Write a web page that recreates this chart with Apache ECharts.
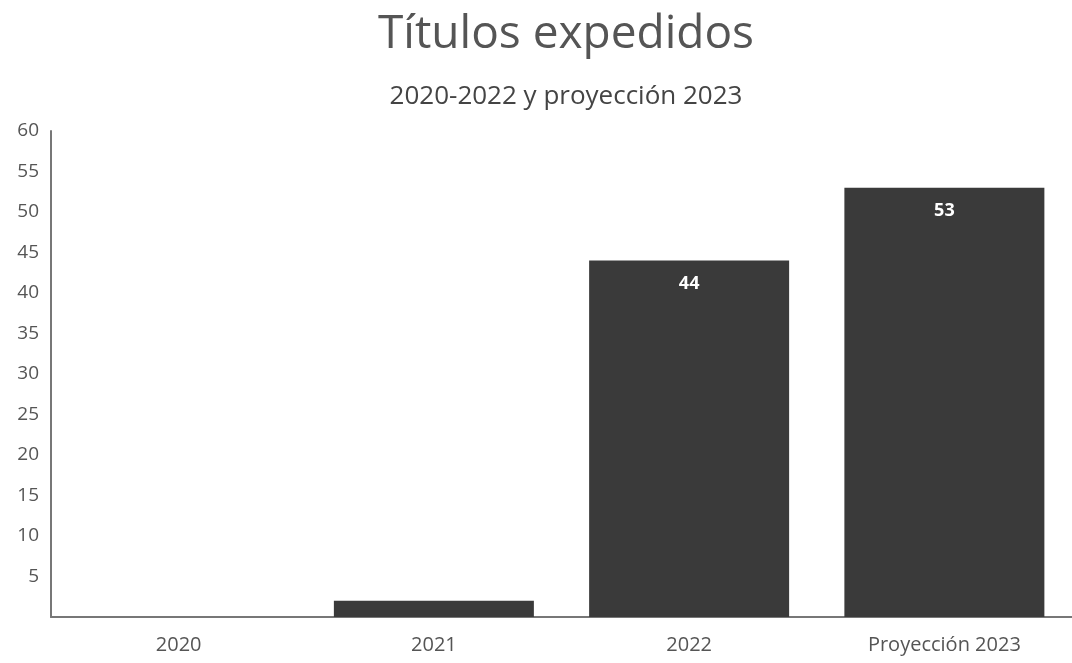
<!DOCTYPE html>
<html><head><meta charset="utf-8">
<script src="https://cdn.jsdelivr.net/npm/echarts@6/dist/echarts.min.js"></script>
<style>html,body{margin:0;padding:0;background:#fff}#c{width:1072px;height:663px}</style>
</head><body><div id="c"></div>
<script>
const categories = ["2020", "2021", "2022", "Proyección 2023"];
const values = [0, 2, 44, 53];
const yTicks = {min: 0, max: 60, interval: 5};

const chart = echarts.init(document.getElementById('c'));
chart.setOption({
  animation: false,
  title: [
    {text: 'Títulos expedidos', left: 561, textAlign: 'center', top: 7, textStyle: {fontFamily: 'Open Sans', fontSize: 46, fontWeight: 'normal', color: '#555'}},
    {text: '2020-2022 y proyección 2023', left: 561, textAlign: 'center', top: 79, textStyle: {fontFamily: 'Open Sans', fontSize: 26, fontWeight: 'normal', color: '#444'}}
  ],
  grid: {left: 51, right: 0, top: 131, bottom: 46, containLabel: false},
  xAxis: {
    type: 'category', data: categories,
    axisLine: {lineStyle: {color: '#777', width: 2}},
    axisTick: {show: false},
    axisLabel: {fontFamily: 'Open Sans', fontSize: 20, color: '#555', margin: 18}
  },
  yAxis: {
    type: 'value', min: yTicks.min, max: yTicks.max, interval: yTicks.interval,
    axisLine: {show: true, lineStyle: {color: '#777', width: 2}},
    axisTick: {show: false},
    splitLine: {show: false},
    axisLabel: {fontFamily: 'Open Sans', fontSize: 19, color: '#555', margin: 12,
      formatter: v => v === 0 ? '' : v}
  },
  series: [{
    type: 'bar', data: values, barWidth: 200,
    itemStyle: {color: '#3a3a3a'},
    label: {show: true, position: 'insideTop', distance: 14, color: '#fff', fontWeight: 'bold', fontSize: 18, fontFamily: 'Open Sans',
      formatter: p => p.value > 5 ? p.value : ''}
  }]
});
</script></body></html>
